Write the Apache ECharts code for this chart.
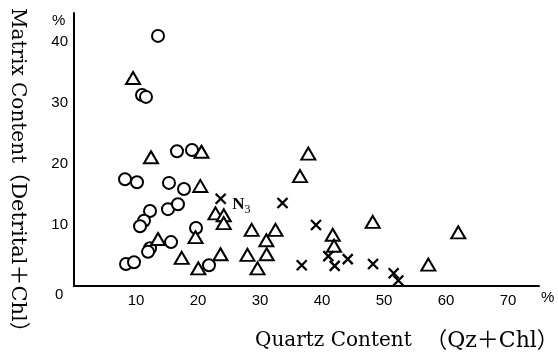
<!DOCTYPE html>
<html>
<head>
<meta charset="utf-8">
<script src="https://cdn.jsdelivr.net/npm/echarts@6/dist/echarts.min.js"></script>
<style>
  html, body { margin: 0; padding: 0; background: #fff; }
  #chart { width: 558px; height: 363px; }
</style>
</head>
<body>
<div id="chart"></div>
<script>
// Quartz content (x, %) vs. matrix content (y, %) for three sample groups

// Group drawn as open circles
const circleX = [13.55, 10.97, 11.61, 16.61, 19.03, 8.23, 10.16, 15.32, 17.74, 12.26, 11.29, 10.65, 15.16, 16.77, 19.68, 12.26, 11.94, 15.65, 8.39, 9.68, 21.77];
const circleY = [41.0, 31.3, 31.0, 22.1, 22.3, 17.5, 17.0, 16.9, 15.9, 12.3, 10.7, 9.8, 12.6, 13.4, 9.5, 6.2, 5.6, 7.2, 3.6, 3.9, 3.4];

// Group drawn as open triangles
const triangleX = [9.52, 12.42, 20.56, 20.37, 37.79, 36.45, 22.82, 24.15, 24.15, 19.6, 13.55, 17.37, 20.05, 23.63, 28.66, 27.98, 31.08, 29.6, 31.02, 32.5, 41.73, 41.94, 48.18, 57.15, 61.98];
const triangleY = [34.1, 21.1, 22.0, 16.4, 21.7, 18.0, 11.9, 11.6, 10.3, 8.0, 7.7, 4.6, 2.9, 5.2, 9.2, 5.1, 5.2, 2.9, 7.5, 9.2, 8.4, 6.6, 10.5, 3.5, 8.8];

// Group drawn as crosses (first point is sample N3)
const crossX = [23.66, 33.63, 39.03, 36.73, 41.02, 42.05, 44.15, 48.23, 51.56, 52.31];
const crossY = [14.3, 13.6, 10.0, 3.4, 4.9, 3.3, 4.4, 3.6, 2.1, 0.9];
const crossNames = ['N3', '', '', '', '', '', '', '', '', ''];

// Tick labels
const xTicks = [10, 20, 30, 40, 50, 60, 70];
const yTicks = [10, 20, 30, 40];

const xTitleMain = 'Quartz Content';
const xTitleSub = '（Qz＋Chl）';
const yTitleMain = 'Matrix Content';
const yTitleSub = '（Detrital＋Chl）';

const zip = (xs, ys) => xs.map((x, i) => [x, ys[i]]);

const ink = '#000';
const tickFont = '"Liberation Sans", Arial, sans-serif';
const titleFont = '"DejaVu Serif", "Noto Sans CJK JP", serif';

const crossData = zip(crossX, crossY).map((p, i) => {
  const item = { value: p, name: crossNames[i] };
  if (crossNames[i]) {
    item.label = {
      show: true,
      position: 'right',
      distance: 4,
      offset: [0, 6],
      formatter: '{n|N}{s|3}',
      rich: {
        n: { fontFamily: '"Liberation Serif", serif', fontSize: 17, fontWeight: 'bold', color: ink, verticalAlign: 'bottom', lineHeight: 17 },
        s: { fontFamily: '"Liberation Serif", serif', fontSize: 12, color: ink, verticalAlign: 'bottom', padding: [0, 0, -3, 0], lineHeight: 17 }
      }
    };
  }
  return item;
});

const chart = echarts.init(document.getElementById('chart'), null, { renderer: 'canvas' });

chart.setOption({
  animation: false,
  backgroundColor: '#fff',
  grid: { left: 74, right: 19, top: 13, bottom: 77 },
  xAxis: {
    type: 'value',
    min: 0,
    max: 75,
    splitLine: { show: false },
    axisLine: { show: true, onZero: false, lineStyle: { color: ink, width: 2 } },
    axisTick: { show: false },
    axisLabel: {
      customValues: xTicks,
      margin: 7,
      fontFamily: tickFont,
      fontSize: 15,
      color: ink
    }
  },
  yAxis: {
    type: 'value',
    min: 0,
    max: 44.75,
    splitLine: { show: false },
    axisLine: { show: true, onZero: false, lineStyle: { color: ink, width: 2 } },
    axisTick: { show: false },
    axisLabel: {
      customValues: yTicks,
      margin: 6,
      fontFamily: tickFont,
      fontSize: 15,
      color: ink
    }
  },
  graphic: [
    { type: 'text', left: 52, top: 13, style: { text: '%', font: '15px ' + tickFont, fill: ink } },
    { type: 'text', left: 541, top: 290, style: { text: '%', font: '15px ' + tickFont, fill: ink } },
    { type: 'text', left: 55, top: 287, style: { text: '0', font: '15px ' + tickFont, fill: ink } },
    {
      type: 'text', x: 255, y: 341,
      style: { text: xTitleMain, font: '20px ' + titleFont, fill: ink, textAlign: 'left', textVerticalAlign: 'middle' }
    },
    {
      type: 'text', x: 492, y: 341,
      style: { text: xTitleSub, font: '22px ' + titleFont, fill: ink, textAlign: 'center', textVerticalAlign: 'middle' }
    },
    {
      type: 'text', x: 17, y: 8, rotation: -Math.PI / 2,
      style: { text: yTitleMain, font: '20px ' + titleFont, fill: ink, textAlign: 'left', textVerticalAlign: 'middle' }
    },
    {
      type: 'text', x: 17, y: 252, rotation: -Math.PI / 2,
      style: { text: yTitleSub, font: '21px ' + titleFont, fill: ink, textAlign: 'center', textVerticalAlign: 'middle' }
    }
  ],
  series: [
    {
      name: 'circle',
      type: 'scatter',
      symbol: 'circle',
      symbolSize: 12,
      itemStyle: { color: '#fff', borderColor: ink, borderWidth: 2, opacity: 1 },
      emphasis: { disabled: true },
      data: zip(circleX, circleY)
    },
    {
      name: 'triangle',
      type: 'scatter',
      symbol: 'triangle',
      symbolSize: [14, 12],
      itemStyle: { color: '#fff', borderColor: ink, borderWidth: 2, opacity: 1 },
      emphasis: { disabled: true },
      data: zip(triangleX, triangleY)
    },
    {
      name: 'cross',
      type: 'scatter',
      symbol: 'path://M0,0L10,10M10,0L0,10',
      symbolSize: 10,
      itemStyle: { color: 'none', borderColor: ink, borderWidth: 2.3, opacity: 1 },
      emphasis: { disabled: true },
      data: crossData
    }
  ]
});
</script>
</body>
</html>
